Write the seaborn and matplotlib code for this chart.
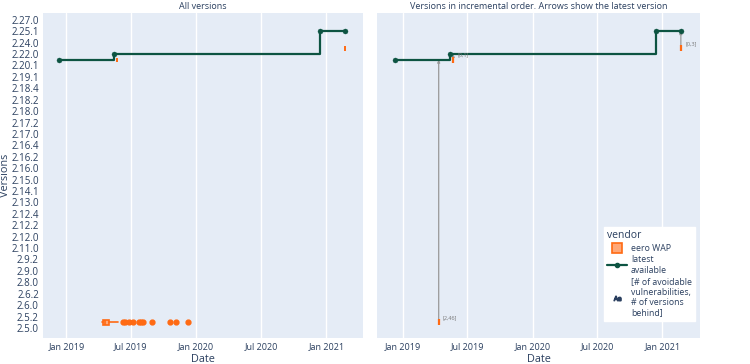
import numpy as np
import pandas as pd
import matplotlib
matplotlib.use("Agg")
import matplotlib.pyplot as plt
import matplotlib.dates as mdates
from matplotlib.lines import Line2D
import seaborn as sns

sns.set_theme(style="darkgrid")
plt.rcParams['font.family'] = ['Open Sans', 'DejaVu Sans']

# version ticks shown on the y axis (bottom to top)
version_ticks = ['2.5.0', '2.5.2', '2.6.0', '2.6.2', '2.8.0', '2.9.0', '2.9.2',
                 '2.11.0', '2.12.0', '2.12.2', '2.12.4', '2.13.0', '2.14.1',
                 '2.15.0', '2.16.0', '2.16.2', '2.16.4', '2.17.0', '2.17.2',
                 '2.18.0', '2.18.2', '2.18.4', '2.19.1', '2.20.1', '2.22.0',
                 '2.24.0', '2.25.1', '2.27.0']

# latest available version (position on version axis)
latest_dates = ['2018-12-10', '2019-05-14', '2020-12-13', '2021-02-22']
latest_pos = [23.5, 24, 26, 26]

# eero WAP installed versions, box stats per version row
box_pos = [0.5, 23.5, 24.5]
box_lo = ['2019-04-11', '2019-05-22', '2021-02-22']
box_q1 = ['2019-04-14', '2019-05-22', '2021-02-22']
box_med = ['2019-04-20', '2019-05-22', '2021-02-22']
box_q3 = ['2019-05-02', '2019-05-22', '2021-02-22']
box_hi = ['2019-05-27', '2019-05-22', '2021-02-22']
box_fliers = [['2019-06-10', '2019-06-16', '2019-06-25', '2019-07-06', '2019-07-23',
               '2019-07-30', '2019-08-05', '2019-08-30', '2019-10-20', '2019-11-05',
               '2019-12-10'], [], []]

# first seen per version + annotation [avoidable vulns, versions behind]
first_seen = ['2019-04-11', '2019-05-22', '2021-02-22']
first_pos = [0.5, 23.5, 24.5]
behind_labels = ['[2,46]', '[0,1]', '[0,3]']

GREEN = '#0d5442'
ORANGE = '#ff6a13'
LIGHT_OR = '#ffa878'
BG = '#e5ecf6'
TXT = '#2a3f5f'

fig = plt.figure(figsize=(7.5, 3.64), dpi=100)
ax1 = fig.add_axes([43 / 750, 26 / 364, 320 / 750, 325 / 364])
ax2 = fig.add_axes([377 / 750, 26 / 364, 323 / 750, 325 / 364], sharey=ax1)

ld = pd.to_datetime(latest_dates)
latest_df = pd.DataFrame({'date': mdates.date2num(ld), 'pos': latest_pos})

for ax in (ax1, ax2):
    ax.set_facecolor(BG)
    sns.lineplot(data=latest_df, x='date', y='pos', ax=ax, color=GREEN,
                 drawstyle='steps-post', lw=1.6, sort=False, zorder=3)
    sns.scatterplot(data=latest_df, x='date', y='pos', ax=ax, color=GREEN,
                    s=13, edgecolor=GREEN, zorder=4)

# left: box plots of installed versions
tonum = lambda d: mdates.date2num(pd.Timestamp(d))
stats = []
for i in range(len(box_pos)):
    stats.append(dict(whislo=tonum(box_lo[i]), q1=tonum(box_q1[i]), med=tonum(box_med[i]),
                      q3=tonum(box_q3[i]), whishi=tonum(box_hi[i]),
                      fliers=[tonum(d) for d in box_fliers[i]]))
ax1.bxp(stats, positions=box_pos, widths=0.4, vert=False, patch_artist=True,
        showcaps=False, manage_ticks=False,
        boxprops=dict(facecolor=LIGHT_OR, edgecolor=ORANGE, lw=1.2),
        medianprops=dict(color=ORANGE, lw=1.2),
        whiskerprops=dict(color=ORANGE, lw=1.2),
        flierprops=dict(marker='o', markerfacecolor=ORANGE, markeredgecolor=ORANGE,
                        markersize=3.5))

# right: first seen ticks with arrows to the latest version
ld_num = mdates.date2num(ld)
for d, p, lab in zip(first_seen, first_pos, behind_labels):
    x = tonum(d)
    idx = np.searchsorted(ld_num, x, side='right') - 1
    target = latest_pos[idx]
    ax2.plot([x], [p], marker='|', color=ORANGE, markersize=5, mew=1.6, zorder=5)
    ax2.annotate('', xy=(x, target), xytext=(x, p + 0.2),
                 arrowprops=dict(arrowstyle='-|>,head_length=0.12,head_width=0.06',
                                 color='#999999', lw=0.9, shrinkA=0, shrinkB=0), zorder=2)
    ax2.annotate(lab, xy=(x, p), xytext=(3, 1.5), textcoords='offset points',
                 fontsize=4, color='#777777', va='bottom', ha='left')

for ax, xl in ((ax1, ('2018-10-27', '2021-04-14')), (ax2, ('2018-10-19', '2021-04-17'))):
    ax.set_xlim(tonum(xl[0]), tonum(xl[1]))
    ax.xaxis.set_major_locator(mdates.MonthLocator(bymonth=[1, 7]))
    ax.xaxis.set_major_formatter(mdates.DateFormatter('%b %Y'))
    ax.grid(axis='x', color='white', lw=1)
    ax.grid(axis='y', visible=False)
    ax.tick_params(axis='x', length=0, labelsize=6.5, labelcolor=TXT, pad=3)
    ax.tick_params(axis='y', length=0, labelsize=7, labelcolor=TXT, pad=3)
    ax.set_xlabel('Date', fontsize=7.8, color=TXT, va='center')
    ax.xaxis.set_label_coords(0.5, -21 / 325)
    for s in ax.spines.values():
        s.set_visible(False)

ax1.set_ylim(-0.88, 27.6)
ax1.set_yticks(range(len(version_ticks)))
ax1.set_yticklabels(version_ticks)
ax1.set_ylabel('Versions', fontsize=7.8, color=TXT, va='center')
ax1.yaxis.set_label_coords(-37 / 320, 0.5)
ax2.set_ylabel('')
ax2.tick_params(axis='y', labelleft=False)

ax1.set_title('All versions', fontsize=6.5, color=TXT, pad=3)
ax2.set_title('Versions in incremental order. Arrows show the latest version',
              fontsize=6.5, color=TXT, pad=3)

handles = [Line2D([0], [0], ls='none', marker='s', markersize=6.5,
                  markerfacecolor=LIGHT_OR, markeredgecolor=ORANGE, mew=1.2),
           Line2D([0], [0], color=GREEN, lw=1.6, marker='o', markersize=3),
           Line2D([0], [0], ls='none', marker=r'$\mathregular{Aa}$', color=TXT, markersize=5)]
labels = ['eero WAP', 'latest\navailable',
          '[# of avoidable\nvulnerabilities,\n# of versions\nbehind]']
leg = ax2.legend(handles, labels, title='vendor', loc='upper left',
                 bbox_to_anchor=(0.69, 0.355), fontsize=6.3, title_fontsize=7.5,
                 frameon=True, fancybox=False, framealpha=1, edgecolor='white',
                 facecolor='white', handlelength=2.2, labelspacing=0.3,
                 borderpad=0.35, handletextpad=0.5)
leg._legend_box.align = 'left'
for t in leg.get_texts():
    t.set_color(TXT)
leg.get_title().set_color(TXT)

fig.savefig('out.png', dpi=100)
